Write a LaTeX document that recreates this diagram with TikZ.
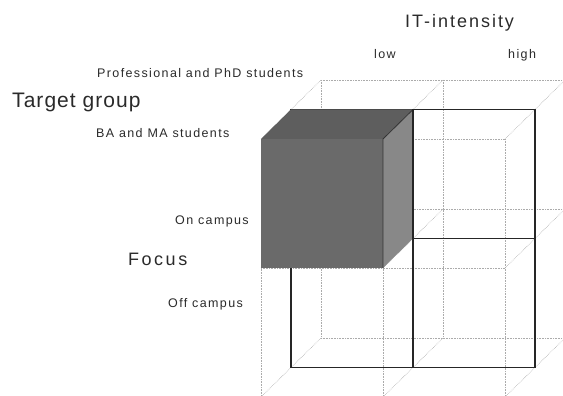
\documentclass[tikz,border=0pt]{standalone}
\usepackage{fontspec}
\setmainfont{Liberation Sans}[LetterSpace=11]
\begin{document}
\begin{tikzpicture}
\definecolor{txt}{HTML}{2A2A2A}
\definecolor{gridc}{HTML}{ABABAB}
\definecolor{frontc}{HTML}{6A6A6A}
\definecolor{topc}{HTML}{5E5E5E}
\definecolor{sidec}{HTML}{888888}
\tikzset{
  lbl/.style={anchor=base west, inner sep=0pt, text=txt},
  small/.style={font=\fontsize{12.5}{14}\selectfont},
  big/.style={font=\fontsize{18}{21}\selectfont},
  grid line/.style={draw=gridc, line width=0.6pt, densely dotted},
  solid line/.style={draw=black!85, line width=1.1pt},
}
\useasboundingbox (0pt,0pt) rectangle (563pt,-396pt);
\clip (0pt,0pt) rectangle (563pt,-396pt);
% labels
\node[lbl,big] (it) at (405pt,-28pt) {IT-intensity};
\node[lbl,small] (low) at (374pt,-59pt) {low};
\node[lbl,small] (high) at (508pt,-59pt) {high};
\node[lbl,small] (prof) at (97pt,-78pt) {Professional and PhD students};
\node[lbl,font=\fontsize{21}{24}\selectfont\addfontfeature{LetterSpace=5}] (tg) at (12pt,-107pt) {Target group};
\node[lbl,small] (ba) at (96pt,-137pt) {BA and MA students};
\node[lbl,small] (on) at (175pt,-224pt) {On campus};
\node[lbl,big,font=\fontsize{18}{21}\selectfont\addfontfeature{LetterSpace=14}] (focus) at (128pt,-265pt) {Focus};
\node[lbl,small] (off) at (168pt,-307pt) {Off campus};
% lattice
\begin{scope}[shift={(261pt,-139pt)}, x={(122pt,0pt)}, y={(0pt,-129pt)}, z={(30pt,29.5pt)}]
  \foreach \i in {0,1,2}{
    \foreach \j in {0,1,2}{
      \foreach \k in {0,1,2}{
        \coordinate (p\i\j\k) at (\i,\j,\k);
      }
    }
  }
  % dotted lattice
  \foreach \a in {0,1,2}{
    \foreach \b in {0,1,2}{
      \draw[grid line] (p0\a\b) -- (p2\a\b);
      \draw[grid line] (p\a0\b) -- (p\a2\b);
      \draw[grid line] (p\a\b0) -- (p\a\b2);
    }
  }
  % solid middle layer
  \draw[solid line] (p001) -- (p201) -- (p221) -- (p021) -- cycle;
  \draw[solid line] (p101) -- (p121);
  \draw[solid line] (p011) -- (p211);
  % dark cube
  \fill[frontc] (p000) -- (p100) -- (p110) -- (p010) -- cycle;
  \fill[topc] (p000) -- (p100) -- (p101) -- (p001) -- cycle;
  \fill[sidec] (p100) -- (p101) -- (p111) -- (p110) -- cycle;
  \draw[black!80, line width=0.8pt] (p110) -- (p100) -- (p101);
  \draw[solid line] (p101) -- (p111);
\end{scope}
\end{tikzpicture}
\end{document}
